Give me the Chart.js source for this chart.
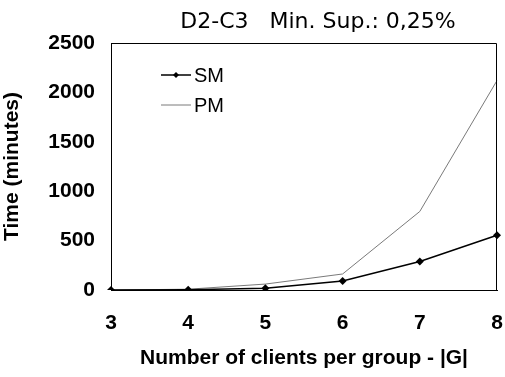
<!DOCTYPE html>
<html>
<head>
<meta charset="utf-8">
<script src="https://cdn.jsdelivr.net/npm/chart.js@4"></script>
<style>
  html, body { margin: 0; padding: 0; background: #fff; }
  #wrap { width: 505px; height: 377px; }
</style>
</head>
<body>
<div id="wrap"><canvas id="myChart" width="505" height="377"></canvas></div>
<script>
const groupSizes = ['3', '4', '5', '6', '7', '8'];
const smTimes = [0, 3, 17, 92, 288, 555];
const pmTimes = [0, 8, 60, 162, 795, 2120];
const yTicks = [0, 500, 1000, 1500, 2000, 2500];
const titleText = 'D2-C3   Min. Sup.: 0,25%';

// legend drawn inside the plot, top-left like the original
const innerLegend = {
  id: 'innerLegend',
  afterDatasetsDraw(chart) {
    const ctx = chart.ctx;
    const area = chart.chartArea;
    ctx.save();
    // box on top and right
    ctx.strokeStyle = '#000';
    ctx.lineWidth = 1;
    ctx.beginPath();
    ctx.moveTo(area.left, area.top + 0.5);
    ctx.lineTo(area.right - 0.5, area.top + 0.5);
    ctx.lineTo(area.right - 0.5, area.bottom);
    ctx.stroke();

    ctx.font = '20px "Liberation Sans", Arial, sans-serif';
    ctx.textBaseline = 'middle';
    chart.data.datasets.forEach((ds, i) => {
      const y = area.top + 32 + i * 30;
      const x0 = area.left + 50;
      ctx.strokeStyle = ds.borderColor;
      ctx.lineWidth = ds.borderWidth;
      ctx.beginPath();
      ctx.moveTo(x0, y);
      ctx.lineTo(x0 + 30, y);
      ctx.stroke();
      if (ds.pointRadius > 0) {
        const r = 3;
        ctx.fillStyle = ds.borderColor;
        ctx.beginPath();
        ctx.moveTo(x0 + 15, y - r);
        ctx.lineTo(x0 + 15 + r, y);
        ctx.lineTo(x0 + 15, y + r);
        ctx.lineTo(x0 + 15 - r, y);
        ctx.closePath();
        ctx.fill();
      }
      ctx.fillStyle = '#000';
      ctx.fillText(ds.label, x0 + 33, y + 1);
    });

    ctx.font = '22px "DejaVu Sans", Verdana, sans-serif';
    ctx.textAlign = 'center';
    ctx.textBaseline = 'alphabetic';
    ctx.fillText(titleText, (area.left + area.right) / 2 + 14, 28);
    ctx.restore();
  }
};

const data = {
  labels: groupSizes,
  datasets: [{
    label: 'SM',
    data: smTimes,
    borderColor: '#000',
    backgroundColor: '#000',
    borderWidth: 1.5,
    pointStyle: 'rectRot',
    pointRadius: 4,
    pointBorderWidth: 0,
    pointHoverRadius: 4,
    tension: 0
  }, {
    label: 'PM',
    data: pmTimes,
    borderColor: '#7a7a7a',
    backgroundColor: '#7a7a7a',
    borderWidth: 1,
    pointRadius: 0,
    tension: 0
  }]
};

const tickFont = { family: '"Liberation Sans", Arial, sans-serif', size: 21, weight: 'bold' };
const titleFont = { family: '"Liberation Sans", Arial, sans-serif', size: 21, weight: 'bold' };

const config = {
  type: 'line',
  data: data,
  options: {
    responsive: false,
    animation: false,
    layout: { padding: { top: 43, right: 0, left: 0, bottom: 0 } },
    plugins: {
      legend: { display: false },
      tooltip: { enabled: false }
    },
    scales: {
      x: {
        offset: false,
        grid: { display: false, drawTicks: true, tickLength: 7, tickColor: '#000' },
        border: { color: '#000', width: 1 },
        ticks: { color: '#000', font: tickFont, padding: 14, maxRotation: 0 },
        title: {
          display: true,
          text: 'Number of clients per group - |G|',
          color: '#000',
          font: titleFont,
          padding: { top: 12, bottom: 6 }
        },
        afterFit(scale) {
          scale.height = 87;
          scale.paddingLeft = 0;
          scale.paddingRight = 8;
        }
      },
      y: {
        min: 0,
        max: 2500,
        afterBuildTicks(scale) { scale.ticks = yTicks.map(v => ({ value: v })); },
        grid: { display: false, drawTicks: true, tickLength: 7, tickColor: '#000' },
        border: { color: '#000', width: 1 },
        ticks: { color: '#000', font: tickFont, padding: 9, callback: v => String(v) },
        title: {
          display: true,
          text: 'Time (minutes)',
          color: '#000',
          font: titleFont,
          padding: { top: 0, bottom: 4 }
        },
        afterFit(scale) { scale.width = 111; }
      }
    }
  },
  plugins: [innerLegend]
};

const myChart = new Chart(document.getElementById('myChart'), config);
</script>
</body>
</html>
